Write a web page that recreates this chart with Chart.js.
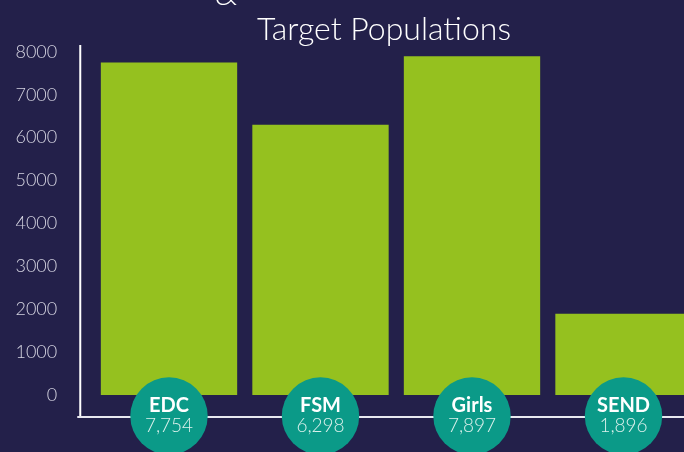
<!DOCTYPE html>
<html>
<head>
<meta charset="utf-8">
<script src="https://cdn.jsdelivr.net/npm/chart.js@4"></script>
<style>
html,body{margin:0;padding:0;background:#23204a;}
#wrap{width:684px;height:452px;position:relative;}
</style>
</head>
<body>
<div id="wrap"><canvas id="c" width="684" height="452"></canvas></div>
<script>
const categories = ['EDC', 'FSM', 'Girls', 'SEND'];
const values = [7754, 6298, 7897, 1896];
const yTicks = [0, 1000, 2000, 3000, 4000, 5000, 6000, 7000, 8000];
const titleText = 'Target Populations';

const BG = '#23204a';
const BAR = '#95c11f';
const TEAL = '#0b9a88';
const FONT = 'Lato, "Open Sans", sans-serif';

// plot frame (layout only)
const FRAME = { left: 93.25, right: 699.25, top: 45, bottom: 417 };

const fmt = new Intl.NumberFormat('en-GB');

const frame = {
  id: 'frame',
  afterLayout(chart) {
    const x = chart.scales.x, y = chart.scales.y;
    x.left = FRAME.left; x.right = FRAME.right; x.width = FRAME.right - FRAME.left;
    x.top = FRAME.bottom; x.bottom = FRAME.bottom;
    x.configure();
    y.top = FRAME.top; y.bottom = FRAME.bottom; y.height = FRAME.bottom - FRAME.top;
    y.left = 0; y.right = FRAME.left; y.width = FRAME.left;
    y.configure();
    const a = chart.chartArea;
    a.left = FRAME.left; a.right = FRAME.right; a.top = FRAME.top; a.bottom = FRAME.bottom;
    a.width = FRAME.right - FRAME.left; a.height = FRAME.bottom - FRAME.top;
  }
};

const decor = {
  id: 'decor',
  beforeDraw(chart) {
    const ctx = chart.ctx;
    ctx.save();
    ctx.fillStyle = BG;
    ctx.fillRect(0, 0, chart.width, chart.height);
    ctx.restore();
  },
  afterDatasetsDraw(chart) {
    const ctx = chart.ctx;
    const area = chart.chartArea;
    ctx.save();
    ctx.fillStyle = '#ffffff';
    ctx.textAlign = 'center';
    ctx.textBaseline = 'alphabetic';
    ctx.font = '300 32px ' + FONT;
    ctx.fillText('&', 226, 5);
    ctx.fillText(titleText, 384, 40);

    ctx.strokeStyle = '#ffffff';
    ctx.lineWidth = 2;
    ctx.beginPath();
    ctx.moveTo(area.left - 13, area.top);
    ctx.lineTo(area.left - 13, area.bottom);
    ctx.stroke();
    ctx.strokeStyle = '#e8e8f0';
    ctx.beginPath();
    ctx.moveTo(area.left - 16, area.bottom);
    ctx.lineTo(chart.width, area.bottom);
    ctx.stroke();

    const meta = chart.getDatasetMeta(0);
    meta.data.forEach((bar, i) => {
      const cx = bar.x;
      const cy = area.bottom - 1;
      ctx.fillStyle = TEAL;
      ctx.beginPath();
      ctx.arc(cx, cy, 38.7, 0, Math.PI * 2);
      ctx.fill();
      ctx.textAlign = 'center';
      ctx.textBaseline = 'middle';
      ctx.fillStyle = '#ffffff';
      ctx.font = 'bold 20px ' + FONT;
      ctx.fillText(categories[i], cx, cy - 10);
      ctx.fillStyle = '#dcf1ec';
      ctx.font = '300 19px ' + FONT;
      ctx.fillText(fmt.format(values[i]), cx, cy + 10);
    });
    ctx.restore();
  }
};

new Chart(document.getElementById('c'), {
  type: 'bar',
  data: {
    labels: categories,
    datasets: [{
      data: values,
      backgroundColor: BAR,
      borderWidth: 0,
      categoryPercentage: 1,
      barPercentage: 0.9,
      clip: false
    }]
  },
  options: {
    responsive: false,
    animation: false,
    devicePixelRatio: 1,
    layout: { padding: { top: 45, bottom: 35, left: 0, right: 0 } },
    plugins: { legend: { display: false }, tooltip: { enabled: false }, title: { display: false } },
    scales: {
      x: { display: false, offset: true },
      y: {
        min: -513,
        max: 8160,
        afterBuildTicks(scale) { scale.ticks = yTicks.map(v => ({ value: v })); },
        afterFit(scale) { scale.width = 93; },
        grid: { display: false, drawTicks: false },
        border: { display: false },
        ticks: {
          color: '#d4d3e0',
          font: { family: FONT, size: 18, weight: '300' },
          padding: 36,
          callback: v => String(v)
        }
      }
    }
  },
  plugins: [frame, decor]
});
</script>
</body>
</html>
